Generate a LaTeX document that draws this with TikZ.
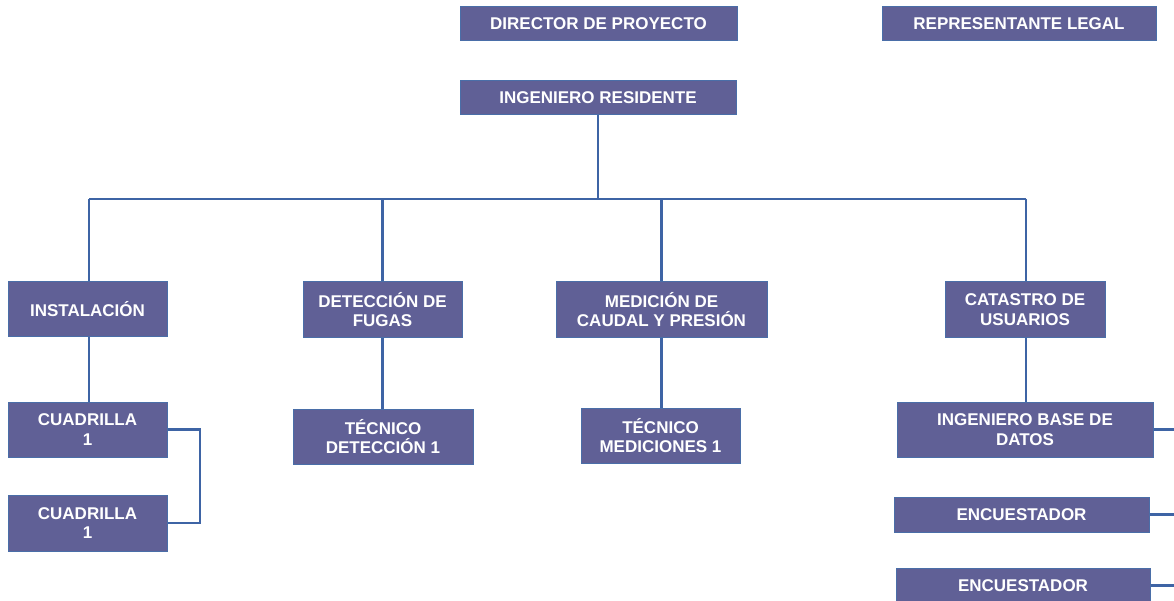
\documentclass[tikz,border=0pt]{standalone}
\usepackage{fontspec}
\setmainfont{Liberation Sans}
\definecolor{boxfill}{RGB}{96,96,150}
\definecolor{boxedge}{RGB}{74,110,168}
\definecolor{linkc}{RGB}{62,100,165}
\begin{document}
\begin{tikzpicture}[x=1pt,y=-1pt,
  box/.style={draw=boxedge, line width=1pt, fill=boxfill, text=white,
    font=\bfseries\fontsize{17}{19.5}\selectfont, align=center, inner sep=0pt},
  link/.style={draw=linkc, line width=2.6pt}]
\useasboundingbox[fill=white] (0,0) rectangle (1174,601);
% top row
\node[box, minimum width=277pt, minimum height=34pt] (dir) at (598.5,24) {DIRECTOR DE PROYECTO};
\node[box, minimum width=274pt, minimum height=34pt] (rep) at (1019,24) {REPRESENTANTE LEGAL};
\node[box, minimum width=276pt, minimum height=34pt] (ing) at (598,98) {INGENIERO RESIDENTE};
% second row
\node[box, minimum width=159pt, minimum height=54pt] (inst) at (87.5,309) {INSTALACIÓN};
\node[box, minimum width=159pt, minimum height=55pt] (det) at (382.5,309.5) {DETECCIÓN DE\\FUGAS};
\node[box, minimum width=211pt, minimum height=55pt] (med) at (661.5,309.5) {MEDICIÓN DE\\CAUDAL Y PRESIÓN};
\node[box, minimum width=160pt, minimum height=55pt] (cat) at (1025,309.5) {CATASTRO DE\\USUARIOS};
% third row
\node[box, minimum width=159pt, minimum height=55pt] (cu1) at (87.5,429.5) {CUADRILLA\\1};
\node[box, minimum width=159pt, minimum height=56pt] (cu2) at (87.5,523) {CUADRILLA\\1};
\node[box, minimum width=180pt, minimum height=55pt] (tdet) at (383,436.5) {TÉCNICO\\DETECCIÓN 1};
\node[box, minimum width=159pt, minimum height=55pt] (tmed) at (660.5,435.5) {TÉCNICO\\MEDICIONES 1};
\node[box, minimum width=256pt, minimum height=55pt] (ibd) at (1025,429.5) {INGENIERO BASE DE\\DATOS};
\node[box, minimum width=255pt, minimum height=35pt] (enc1) at (1021.5,514.5) {ENCUESTADOR};
\node[box, minimum width=254pt, minimum height=35pt] (enc2) at (1023,585.5) {ENCUESTADOR};
% helper coordinates
\coordinate (busL) at (89,199);
\coordinate (busR) at (1026,199);
\coordinate (bracket) at (200,0);
\coordinate (redge) at (1174,0);
% connectors
\draw[link] (ing.south) -- (ing.south |- busL);
\draw[link] (busL) -- (busR);
\draw[link] (busL) -- (busL |- inst.north);
\draw[link] (det.north |- busL) -- (det.north);
\draw[link] (med.north |- busL) -- (med.north);
\draw[link] (busR) -- (busR |- cat.north);
\draw[link] (busL |- inst.south) -- (busL |- cu1.north);
\draw[link] (det.south) -- (det.south |- tdet.north);
\draw[link] (med.south) -- (med.south |- tmed.north);
\draw[link] (busR |- cat.south) -- (busR |- ibd.north);
\draw[link] (cu1.east) -- (cu1.east -| bracket) -- (cu2.east -| bracket) -- (cu2.east);
\draw[link] (ibd.east) -- (ibd.east -| redge);
\draw[link] (enc1.east) -- (enc1.east -| redge);
\draw[link] (enc2.east) -- (enc2.east -| redge);
\end{tikzpicture}
\end{document}
